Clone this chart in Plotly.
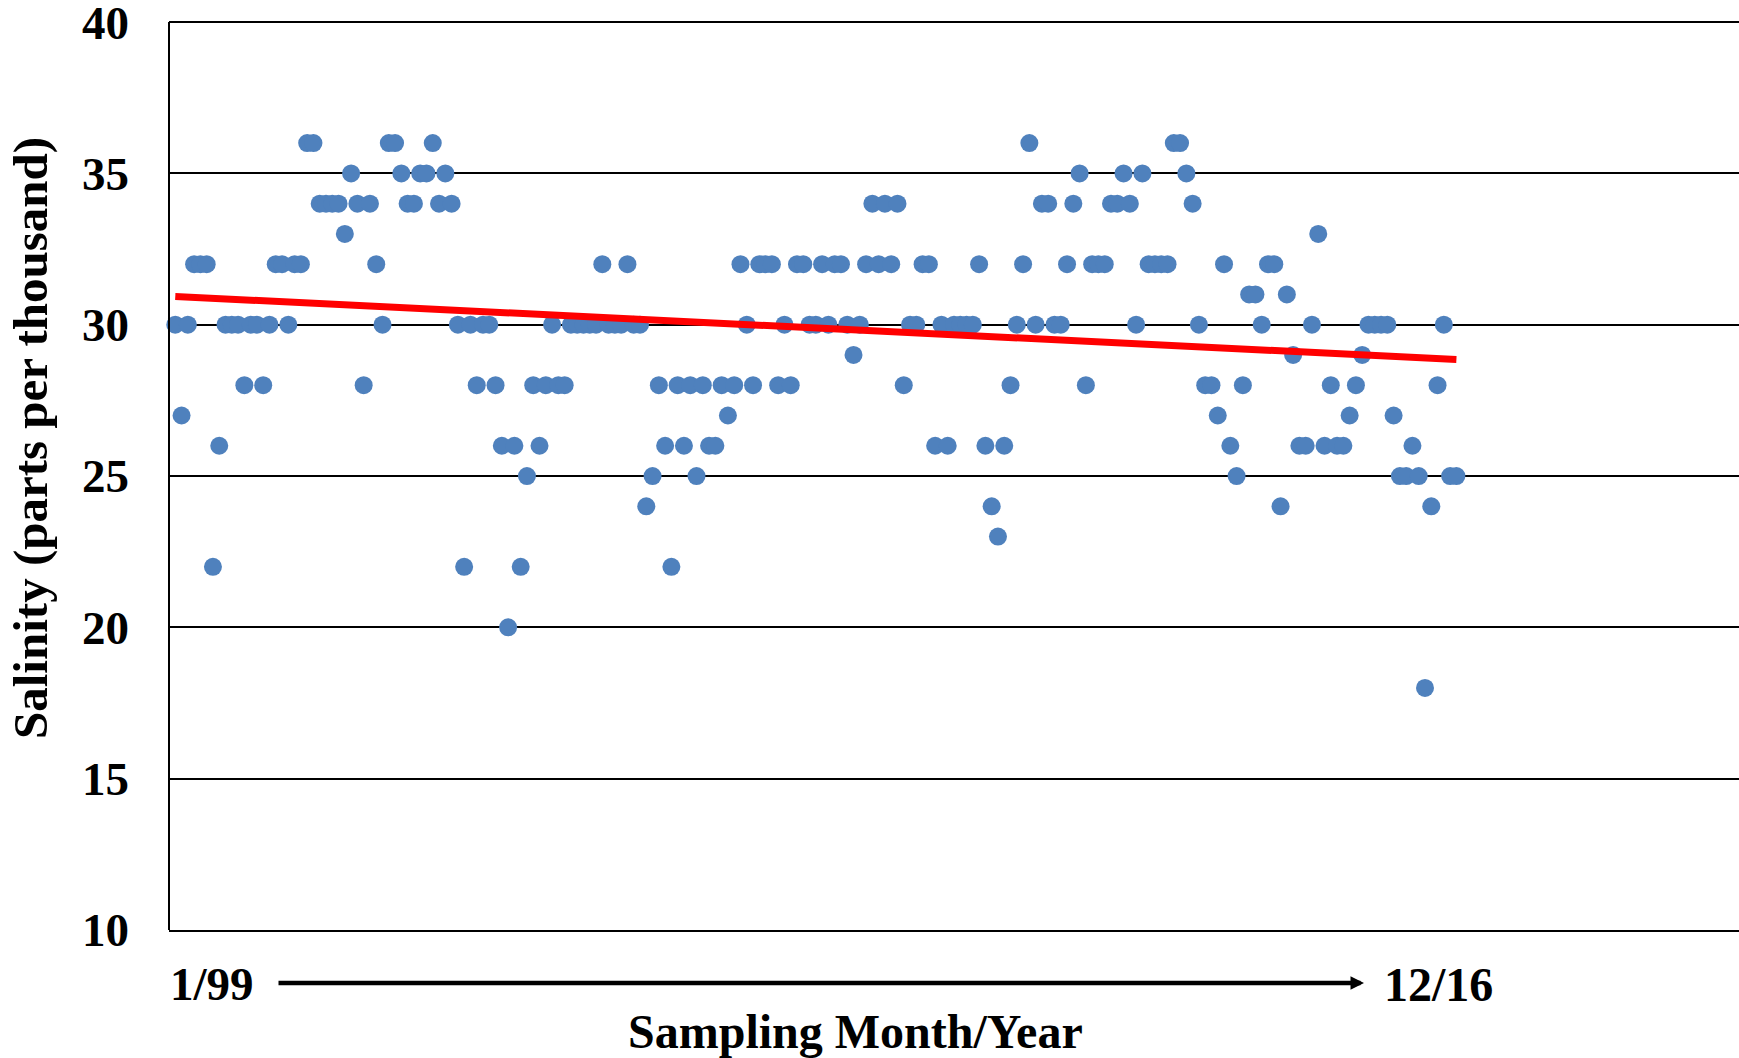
import numpy as np
import plotly.graph_objects as go

# ---- data (monthly salinity samples, 1/99 -> 12/16) ----
salinity = [
    30, 27, 30, 32, 32, 32, 22, 26, 30, 30,
    30, 28, 30, 30, 28, 30, 32, 32, 30, 32,
    32, 36, 36, 34, 34, 34, 34, 33, 35, 34,
    28, 34, 32, 30, 36, 36, 35, 34, 34, 35,
    35, 36, 34, 35, 34, 30, 22, 30, 28, 30,
    30, 28, 26, 20, 26, 22, 25, 28, 26, 28,
    30, 28, 28, 30, 30, 30, 30, 30, 32, 30,
    30, 30, 32, 30, 30, 24, 25, 28, 26, 22,
    28, 26, 28, 25, 28, 26, 26, 28, 27, 28,
    32, 30, 28, 32, 32, 32, 28, 30, 28, 32,
    32, 30, 30, 32, 30, 32, 32, 30, 29, 30,
    32, 34, 32, 34, 32, 34, 28, 30, 30, 32,
    32, 26, 30, 26, 30, 30, 30, 30, 32, 26,
    24, 23, 26, 28, 30, 32, 36, 30, 34, 34,
    30, 30, 32, 34, 35, 28, 32, 32, 32, 34,
    34, 35, 34, 30, 35, 32, 32, 32, 32, 36,
    36, 35, 34, 30, 28, 28, 27, 32, 26, 25,
    28, 31, 31, 30, 32, 32, 24, 31, 29, 26,
    26, 30, 33, 26, 28, 26, 26, 27, 28, 29,
    30, 30, 30, 30, 27, 25, 25, 26, 25, 18,
    24, 28, 30, 25, 25,
]
sample_index = list(range(1, len(salinity) + 1))
y_ticks = [10, 15, 20, 25, 30, 35, 40]
start_label = "1/99"
end_label = "12/16"
x_title = "Sampling Month/Year"
y_title = "Salinity (parts per thousand)"

# linear trend (least squares)
slope, intercept = np.polyfit(sample_index, salinity, 1)
trend_x = [sample_index[0], sample_index[-1]]
trend_y = [intercept + slope * v for v in trend_x]

W, H = 1739, 1058
ML, MR, MT, MB = 169, 0, 16, 128
PW, PH = W - ML - MR, H - MT - MB
Y_TOP = 40.2


def px(xp):
    return (xp - ML) / PW


def py(yp):
    return (H - MB - yp) / PH


FONT = "Liberation Serif, Times New Roman, serif"

fig = go.Figure()
fig.add_trace(go.Scatter(
    x=sample_index, y=salinity, mode="markers",
    marker=dict(size=18, color="#4F81BD", line=dict(width=0)),
    showlegend=False, cliponaxis=False,
))
fig.add_trace(go.Scatter(
    x=trend_x, y=trend_y, mode="lines",
    line=dict(color="#FF0000", width=7),
    showlegend=False,
))

fig.update_xaxes(
    range=[0, 250], showgrid=False, zeroline=False,
    showticklabels=False, ticks="", automargin=False,
    showline=True, linecolor="black", linewidth=2,
)
fig.update_yaxes(
    range=[10, Y_TOP], tickvals=y_ticks, ticktext=[str(v) for v in y_ticks],
    showgrid=True, gridcolor="black", gridwidth=1.6,
    zeroline=False, showline=False, automargin=False,
    ticks="", ticklabelstandoff=39, ticklabeloverflow="allow",
    tickfont=dict(family=FONT, size=47, color="black", weight="bold"),
)

# left axis line from 10 to 40
fig.add_shape(type="line", xref="paper", yref="y", x0=0, x1=0,
              y0=y_ticks[0], y1=y_ticks[-1],
              line=dict(color="black", width=2))

annots = [
    dict(text=y_title, x=px(30), y=py(438), xref="paper", yref="paper",
         textangle=-90, showarrow=False, xanchor="center", yanchor="middle",
         font=dict(family=FONT, size=49, color="black", weight="bold")),
    dict(text=start_label, x=px(168), y=py(984), xref="paper", yref="paper",
         showarrow=False, xanchor="left", yanchor="middle",
         font=dict(family=FONT, size=47, color="black", weight="bold")),
    dict(text=end_label, x=px(1438), y=py(984), xref="paper", yref="paper",
         showarrow=False, xanchor="center", yanchor="middle",
         font=dict(family=FONT, size=48, color="black", weight="bold")),
    dict(text=x_title, x=px(855), y=py(1031), xref="paper", yref="paper",
         showarrow=False, xanchor="center", yanchor="middle",
         font=dict(family=FONT, size=48, color="black", weight="bold")),
    dict(text="", x=px(1364), y=py(983), xref="paper", yref="paper",
         showarrow=True, ax=-(1364 - 277), ay=0, axref="pixel", ayref="pixel",
         arrowhead=2, arrowsize=0.6, arrowwidth=4.5, arrowcolor="black",
         standoff=0, startstandoff=0),
]

fig.update_layout(
    width=W, height=H,
    margin=dict(l=ML, r=MR, t=MT, b=MB, pad=0, autoexpand=False),
    plot_bgcolor="white", paper_bgcolor="white",
    annotations=annots,
    font=dict(family=FONT, color="black"),
)

fig.write_html(
    "out.html",
    config={"displayModeBar": False},
    post_script="document.body.style.margin='0';document.body.style.overflow='hidden';",
)
